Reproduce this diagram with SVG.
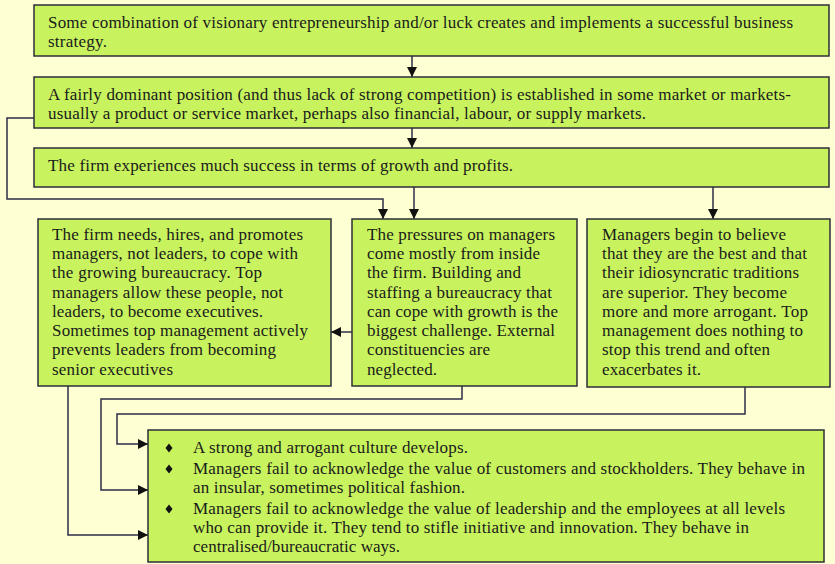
<svg xmlns="http://www.w3.org/2000/svg" width="835" height="564" viewBox="0 0 835 564">
<defs>
<style>
.bg{fill:#FFFFD4}
.box{fill:#C8F35E;stroke:#2E2E3A;stroke-width:1.5}
.t{font-family:"Liberation Serif","Times New Roman",serif;font-size:17px;fill:#1a1a1a}
.c{fill:none;stroke:#2E2E48;stroke-width:1.5}
.b{fill:#111}
</style>
<marker id="ah" viewBox="0 0 10 10" refX="10" refY="5" markerWidth="10" markerHeight="10" markerUnits="userSpaceOnUse" orient="auto">
<path d="M0,0 L10,5 L0,10 z" fill="#111"/>
</marker>
</defs>
<rect class="bg" x="0" y="0" width="835" height="564"/>

<g id="connectors">
<line class="c" x1="412" y1="56" x2="412" y2="77" marker-end="url(#ah)"/>
<line class="c" x1="412" y1="128" x2="412" y2="148" marker-end="url(#ah)"/>
<polyline class="c" points="34,118 7,118 7,199 383,199 383,219" marker-end="url(#ah)"/>
<line class="c" x1="414" y1="187" x2="414" y2="219" marker-end="url(#ah)"/>
<line class="c" x1="713" y1="187" x2="713" y2="219" marker-end="url(#ah)"/>
<line class="c" x1="352" y1="332" x2="331" y2="332" marker-end="url(#ah)"/>
<polyline class="c" points="462,386 462,399 101,399 101,490 148,490" marker-end="url(#ah)"/>
<polyline class="c" points="745,387 745,414 117,414 117,444 148,444" marker-end="url(#ah)"/>
<polyline class="c" points="68,386 68,535 148,535" marker-end="url(#ah)"/>
</g>

<g id="n1">
<rect class="box" x="34" y="5" width="795" height="51"/>
<text class="t" x="48" y="28" textLength="745" lengthAdjust="spacing">Some combination of visionary entrepreneurship and/or luck creates and implements a successful business</text>
<text class="t" x="48" y="47" textLength="59" lengthAdjust="spacing">strategy.</text>
</g>

<g id="n2">
<rect class="box" x="34" y="77" width="795" height="51"/>
<text class="t" x="48" y="100" textLength="743" lengthAdjust="spacing">A fairly dominant position (and thus lack of strong competition) is established in some market or markets-</text>
<text class="t" x="48" y="119" textLength="598" lengthAdjust="spacing">usually a product or  service market, perhaps also financial, labour, or supply markets.</text>
</g>

<g id="n3">
<rect class="box" x="34" y="148" width="795" height="39"/>
<text class="t" x="48" y="171" textLength="465" lengthAdjust="spacing">The firm experiences much success in terms of growth and profits.</text>
</g>

<g id="n4">
<rect class="box" x="38" y="219" width="293" height="167"/>
<text class="t" x="52" y="240" textLength="251" lengthAdjust="spacing">The firm needs, hires, and promotes</text>
<text class="t" x="52" y="259" textLength="246" lengthAdjust="spacing">managers, not leaders, to cope with</text>
<text class="t" x="52" y="278" textLength="210" lengthAdjust="spacing">the growing bureaucracy. Top</text>
<text class="t" x="52" y="298" textLength="231" lengthAdjust="spacing">managers allow these people, not</text>
<text class="t" x="52" y="317" textLength="211" lengthAdjust="spacing">leaders, to become executives.</text>
<text class="t" x="52" y="336" textLength="256" lengthAdjust="spacing">Sometimes top management actively</text>
<text class="t" x="52" y="355" textLength="224" lengthAdjust="spacing">prevents leaders from becoming</text>
<text class="t" x="52" y="375" textLength="121" lengthAdjust="spacing">senior executives</text>
</g>

<g id="n5">
<rect class="box" x="352" y="219" width="225" height="167"/>
<text class="t" x="367" y="240" textLength="188" lengthAdjust="spacing">The pressures on managers</text>
<text class="t" x="367" y="259" textLength="173" lengthAdjust="spacing">come mostly from inside</text>
<text class="t" x="367" y="278" textLength="154" lengthAdjust="spacing">the firm. Building and</text>
<text class="t" x="367" y="298" textLength="185" lengthAdjust="spacing">staffing a bureaucracy that</text>
<text class="t" x="367" y="317" textLength="191" lengthAdjust="spacing">can cope with growth is the</text>
<text class="t" x="367" y="336" textLength="188" lengthAdjust="spacing">biggest challenge. External</text>
<text class="t" x="367" y="355" textLength="123" lengthAdjust="spacing">constituencies are</text>
<text class="t" x="367" y="375" textLength="70" lengthAdjust="spacing">neglected.</text>
</g>

<g id="n6">
<rect class="box" x="587" y="219" width="243" height="168"/>
<text class="t" x="602" y="240" textLength="184" lengthAdjust="spacing">Managers begin to believe</text>
<text class="t" x="602" y="259" textLength="205" lengthAdjust="spacing">that they are the best and that</text>
<text class="t" x="602" y="278" textLength="197" lengthAdjust="spacing">their idiosyncratic traditions</text>
<text class="t" x="602" y="298" textLength="185" lengthAdjust="spacing">are superior. They become</text>
<text class="t" x="602" y="317" textLength="206" lengthAdjust="spacing">more and more arrogant. Top</text>
<text class="t" x="602" y="336" textLength="201" lengthAdjust="spacing">management does nothing to</text>
<text class="t" x="602" y="355" textLength="168" lengthAdjust="spacing">stop this trend and often</text>
<text class="t" x="602" y="375" textLength="99" lengthAdjust="spacing">exacerbates it.</text>
</g>

<g id="n7">
<rect class="box" x="148" y="430" width="676" height="132"/>
<path class="b" d="M169,443.5 L172.5,448 L169,452.5 L165.5,448 z"/>
<path class="b" d="M169,464.5 L172.5,469 L169,473.5 L165.5,469 z"/>
<path class="b" d="M169,504.5 L172.5,509 L169,513.5 L165.5,509 z"/>
<text class="t" x="193" y="453" textLength="275" lengthAdjust="spacing">A strong and arrogant culture develops.</text>
<text class="t" x="193" y="474" textLength="612" lengthAdjust="spacing">Managers fail to acknowledge the value of customers and stockholders. They behave in</text>
<text class="t" x="193" y="493" textLength="272" lengthAdjust="spacing">an insular, sometimes political fashion.</text>
<text class="t" x="193" y="514" textLength="592" lengthAdjust="spacing">Managers fail to acknowledge the value of leadership and the employees at all levels</text>
<text class="t" x="193" y="533" textLength="556" lengthAdjust="spacing">who can provide it. They tend to stifle initiative and innovation. They behave in</text>
<text class="t" x="193" y="552" textLength="207" lengthAdjust="spacing">centralised/bureaucratic ways.</text>
</g>
</svg>
